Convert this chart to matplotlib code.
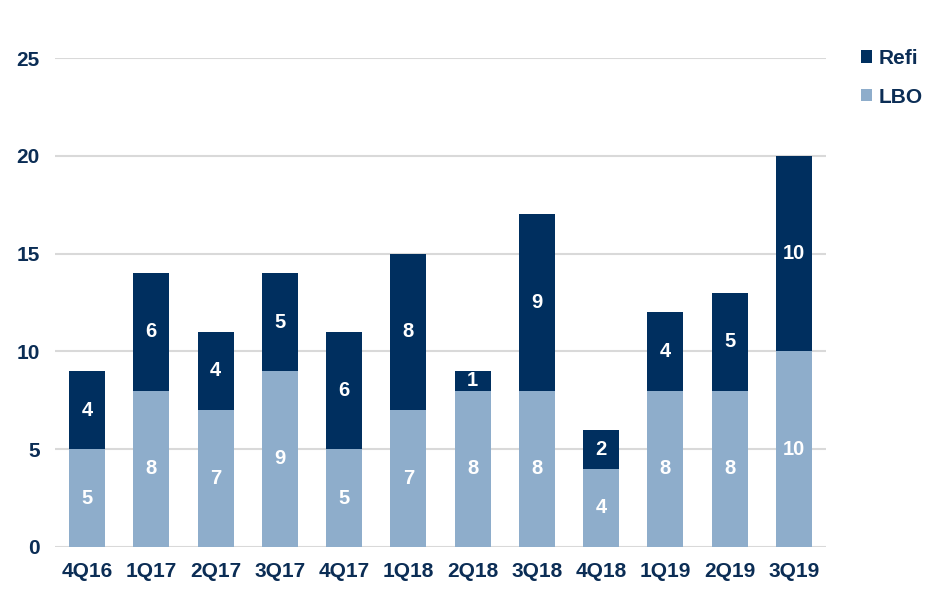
import matplotlib.pyplot as plt
import numpy as np

plt.rcParams['font.family'] = ['Liberation Sans', 'DejaVu Sans']
plt.rcParams['font.weight'] = 'bold'

quarters = ['4Q16', '1Q17', '2Q17', '3Q17', '4Q17', '1Q18', '2Q18', '3Q18',
            '4Q18', '1Q19', '2Q19', '3Q19']
lbo = [5, 8, 7, 9, 5, 7, 8, 8, 4, 8, 8, 10]
refi = [4, 6, 4, 5, 6, 8, 1, 9, 2, 4, 5, 10]

navy = '#002F5F'
light = '#8EADCB'
text_col = '#0B2D55'

fig = plt.figure(figsize=(9.39, 5.97), dpi=100)
ax = fig.add_axes([55 / 939, 1 - 547 / 597, (826 - 55) / 939, (547 - 58) / 597])

x = np.arange(len(quarters))
w = 0.56
b1 = ax.bar(x, lbo, w, color=light, label='LBO', zorder=2)
b2 = ax.bar(x, refi, w, bottom=lbo, color=navy, label='Refi', zorder=2)

for xi, l, r in zip(x, lbo, refi):
    ax.text(xi, l / 2, str(l), ha='center', va='center', color='white',
            fontsize=14.5, fontweight='bold', zorder=3)
    ax.text(xi, l + r / 2, str(r), ha='center', va='center', color='white',
            fontsize=14.5, fontweight='bold', zorder=3)

ax.set_xlim(-0.5, len(quarters) - 0.5)
ax.set_ylim(0, 25)
ax.set_yticks([0, 5, 10, 15, 20, 25])
ax.set_xticks(x)
ax.set_xticklabels(quarters)
ax.yaxis.grid(True, color='#D9D9D9', linewidth=1.5, zorder=0)
ax.set_axisbelow(True)
for s in ax.spines.values():
    s.set_visible(False)
ax.tick_params(axis='both', length=0, labelsize=15, labelcolor=text_col)
ax.tick_params(axis='x', pad=11)
ax.tick_params(axis='y', pad=11)

leg = fig.legend(handles=[b2, b1], labels=['Refi', 'LBO'],
                 loc='upper left', bbox_to_anchor=(842 / 939, 1 - 30 / 597),
                 frameon=False, fontsize=15, handlelength=0.55,
                 handleheight=0.55, handletextpad=0.3, labelspacing=0.95)
for t in leg.get_texts():
    t.set_color(text_col)

fig.savefig('out.png', dpi=100)
